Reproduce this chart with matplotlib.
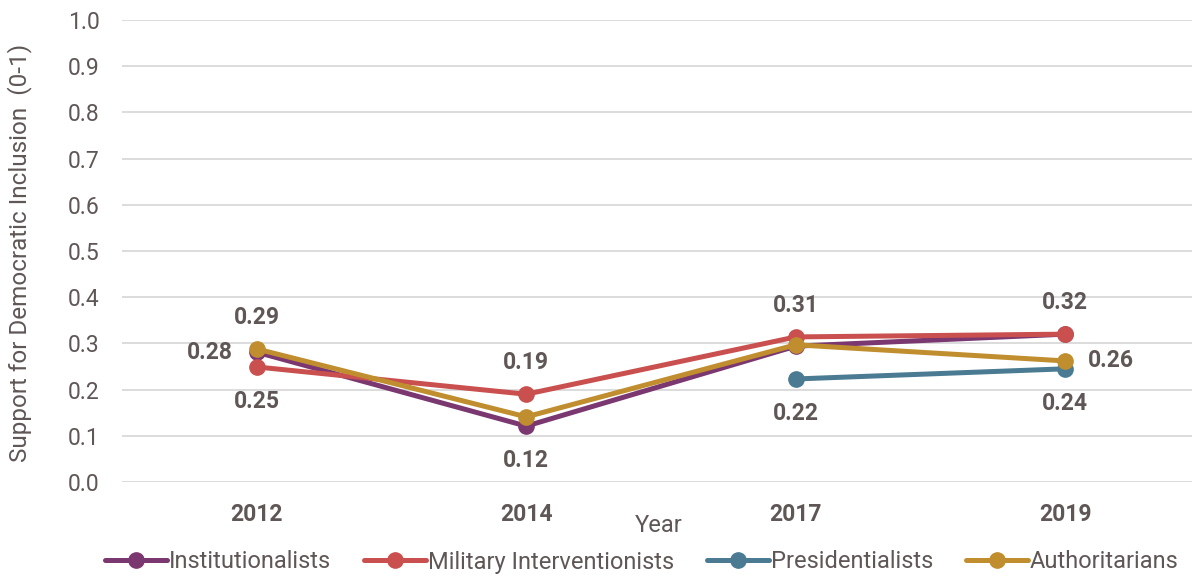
import matplotlib
matplotlib.use("Agg")
import matplotlib.pyplot as plt
import numpy as np

plt.rcParams['font.family'] = ['Roboto', 'DejaVu Sans']

years = ["2012", "2014", "2017", "2019"]
institutionalists = [0.281, 0.121, 0.294, 0.320]
military = [0.249, 0.190, 0.314, 0.320]
presidentialists = [None, None, 0.223, 0.245]
authoritarians = [0.288, 0.141, 0.297, 0.262]

series_names = ["Institutionalists", "Military Interventionists", "Presidentialists", "Authoritarians"]
series_values = [institutionalists, military, presidentialists, authoritarians]
colors = ["#7B3770", "#C9504F", "#4A7B92", "#C08E2E"]

# labels: (series index, year index, text, placement)
labels = [
    (3, 0, "0.29", "above"), (0, 0, "0.28", "left"), (1, 0, "0.25", "below"),
    (1, 1, "0.19", "above"), (0, 1, "0.12", "below"),
    (1, 2, "0.31", "above"), (2, 2, "0.22", "below"),
    (1, 3, "0.32", "above"), (3, 3, "0.26", "right"), (2, 3, "0.24", "below"),
]

fig = plt.figure(figsize=(11.92, 5.76), dpi=100)
ax = fig.add_axes([0.1023, 0.1632, 0.8977, 0.8021])

x = np.arange(len(years))
for name, vals, c in zip(series_names, series_values, colors):
    xs = [xi for xi, v in zip(x, vals) if v is not None]
    ys = [v for v in vals if v is not None]
    ax.plot(xs, ys, color=c, lw=3.6, marker='o', ms=11, label=name,
            solid_capstyle='round', zorder=3)

txtc = "#5F5756"
fs_lab = 16.5
for si, yi, t, pl in labels:
    v = series_values[si][yi]
    if pl == "above":
        off, ha = (0, 22.5), 'center'
    elif pl == "below":
        off, ha = (0, -25), 'center'
    elif pl == "left":
        off, ha = (-17, 0), 'right'
    else:
        off, ha = (16.5, 0), 'left'
    ax.annotate(t, (x[yi], v), xytext=off, textcoords='offset points',
                ha=ha, va='center', fontsize=fs_lab, fontweight='bold', color=txtc)

ax.set_xlim(-0.5, 3.47)
ax.set_ylim(0, 1.0)
ax.set_yticks(np.arange(0, 1.01, 0.1))
ax.set_yticklabels([f"{v:.1f}" for v in np.arange(0, 1.01, 0.1)])
ax.set_xticks(x)
ax.set_xticklabels(years, fontweight='bold')
ax.tick_params(axis='both', length=0, labelsize=16.5, colors=txtc)
ax.tick_params(axis='y', pad=16)
ax.tick_params(axis='x', pad=15)
ax.grid(axis='y', color='#D9D9D9', lw=1.3)
ax.set_axisbelow(True)
for s in ax.spines.values():
    s.set_visible(False)

fig.text(20 / 1192, 1 - 253 / 576, "Support for Democratic Inclusion  (0-1)", rotation=90,
         ha='center', va='center', fontsize=17.5, color=txtc)
fig.text(659 / 1192, 1 - 525 / 576, "Year", ha='center', va='center', fontsize=17, color=txtc)

leg = fig.legend(loc='center', bbox_to_anchor=(642 / 1192, 1 - 562 / 576), ncol=4, frameon=False,
                 fontsize=17, handlelength=2.6, handletextpad=0.1, columnspacing=1.4,
                 labelcolor=txtc)

fig.savefig("out.png", dpi=100)
